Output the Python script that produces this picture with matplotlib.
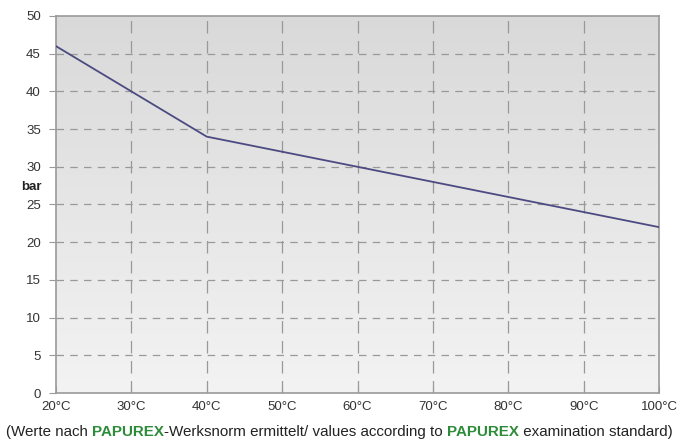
import matplotlib.pyplot as plt
import numpy as np
from matplotlib.colors import LinearSegmentedColormap

# Data: pressure (bar) vs temperature
temps = [20, 30, 40, 50, 60, 70, 80, 90, 100]
pressure = [46, 40, 34, 32, 30, 28, 26, 24, 22]
x_labels = ['20°C', '30°C', '40°C', '50°C', '60°C', '70°C', '80°C', '90°C', '100°C']
y_ticks = [0, 5, 10, 15, 20, 25, 30, 35, 40, 45, 50]

plt.rcParams['font.family'] = ['Liberation Sans', 'DejaVu Sans']

fig = plt.figure(figsize=(6.79, 4.44), dpi=100)
ax = fig.add_axes([56 / 679, 51 / 444, 603 / 679, 377 / 444])

# Background gradient: darker grey at the top, near-white at the bottom
grad = np.linspace(0, 1, 256).reshape(-1, 1)
cmap = LinearSegmentedColormap.from_list('bg', ['#f3f3f3', '#d9d9d9'])
ax.imshow(grad, extent=[20, 100, 0, 50], origin='lower', aspect='auto',
          cmap=cmap, zorder=0)

# Dashed grid
for t in temps[1:-1]:
    ax.axvline(t, color='#999999', linestyle=(0, (10, 6)), linewidth=0.9, zorder=1)
for v in y_ticks[1:-1]:
    ax.axhline(v, color='#999999', linestyle=(0, (6, 5)), linewidth=0.9, zorder=1)

ax.plot(temps, pressure, color='#4b4b82', linewidth=1.3, zorder=3)

ax.set_xlim(20, 100)
ax.set_ylim(0, 50)
ax.set_xticks(temps)
ax.set_xticklabels(x_labels)
ax.set_yticks(y_ticks)

for s in ax.spines.values():
    s.set_color('#9a9a9a')
    s.set_linewidth(1.2)

ax.tick_params(axis='x', direction='in', length=5, color='#9a9a9a',
               labelsize=9.5, labelcolor='#333333', pad=6)
ax.tick_params(axis='y', direction='out', length=5, color='#9a9a9a',
               labelsize=9.5, labelcolor='#333333', pad=6)

fig.text(31 / 679, 1 - 187 / 444, 'bar', ha='center', va='center',
         fontsize=9.5, fontweight='bold', color='#222222')

# Footer note with green brand names
pieces = [
    ('(Werte nach ', '#222222', 'normal'),
    ('PAPUREX', '#2e8b3a', 'bold'),
    ('-Werksnorm ermittelt/ values according to ', '#222222', 'normal'),
    ('PAPUREX', '#2e8b3a', 'bold'),
    (' examination standard)', '#222222', 'normal'),
]
fig.canvas.draw()
renderer = fig.canvas.get_renderer()
x_px = 6
y_frac = 1 - 432 / 444
for txt, col, wt in pieces:
    t = fig.text(x_px / 679, y_frac, txt, color=col, fontweight=wt,
                 fontsize=10.9, va='center', ha='left')
    bb = t.get_window_extent(renderer)
    x_px += bb.width

fig.savefig('out.png', dpi=100)
